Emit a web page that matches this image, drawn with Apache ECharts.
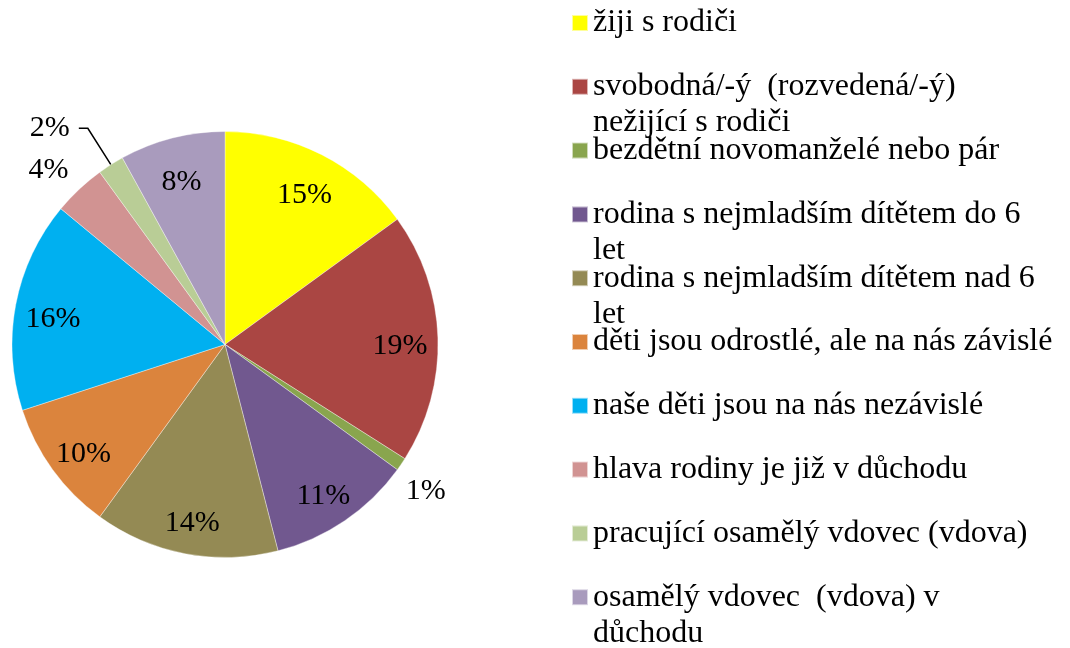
<!DOCTYPE html>
<html>
<head>
<meta charset="utf-8">
<script src="https://cdn.jsdelivr.net/npm/echarts@6/dist/echarts.min.js"></script>
<style>
  html, body { margin: 0; padding: 0; background: #fff; }
  #main { width: 1070px; height: 648px; }
</style>
</head>
<body>
<div id="main"></div>
<script>
var categories = [
  'žiji s rodiči',
  'svobodná/-ý  (rozvedená/-ý)\nnežijící s rodiči',
  'bezdětní novomanželé nebo pár',
  'rodina s nejmladším dítětem do 6\nlet',
  'rodina s nejmladším dítětem nad 6\nlet',
  'děti jsou odrostlé, ale na nás závislé',
  'naše děti jsou na nás nezávislé',
  'hlava rodiny je již v důchodu',
  'pracující osamělý vdovec (vdova)',
  'osamělý vdovec  (vdova) v\ndůchodu'
];
var shares = [15, 19, 1, 11, 14, 10, 16, 4, 2, 8];
var colors = ['#FFFF00', '#AA4643', '#89A54E', '#71588F', '#948A54',
              '#DB843D', '#00B0F0', '#D19392', '#B9CD96', '#A99BBD'];

(function(){
  var chart = echarts.init(document.getElementById('main'));
  var serif = '"Liberation Serif", "Times New Roman", serif';

  var center = [225, 344.5];
  var R = 213;

  // small slices get their labels outside the pie
  var outside = {
    2: { length: 48, length2: -40, line: false },
    7: { length: 26, length2: -12, line: false },
    8: { length: 43, length2: 9, line: true }
  };

  var pieData = shares.map(function (v, i) {
    return { name: categories[i], value: v, itemStyle: { color: colors[i] } };
  });

  var labelData = shares.map(function (v, i) {
    var item = { name: categories[i], value: v };
    var o = outside[i];
    if (o) {
      item.label = { position: 'outside', formatter: '{c}%', distanceToLabelLine: o.line ? 9 : 5 };
      item.labelLine = {
        show: o.line, length: o.length, length2: o.length2,
        lineStyle: { color: '#000', width: 1.5 }
      };
    }
    return item;
  });

  // one legend per entry so every marker sits on the same 64px step;
  // wrapped entries get an empty first line so the marker lines up with line one
  var legends = categories.map(function (name, i) {
    var twoLines = name.indexOf('\n') >= 0;
    var c = 23 + 63.8 * i;
    return {
      data: [name],
      left: 571,
      top: twoLines ? c - 54 : c - 18,
      padding: 0,
      icon: 'rect',
      itemWidth: 16,
      itemHeight: 16,
      selectedMode: false,
      formatter: function (n) { return twoLines ? '\n' + n : n; },
      textStyle: { fontFamily: serif, fontSize: 32, lineHeight: 36, color: '#000' }
    };
  });

  var option = {
    animation: false,
    legend: legends,
    series: [{
      type: 'pie',
      center: center,
      radius: [0, R],
      startAngle: 90,
      clockwise: true,
      silent: true,
      label: { show: false },
      labelLine: { show: false },
      itemStyle: { borderColor: 'rgba(255,255,255,0.6)', borderWidth: 0.6 },
      emphasis: { disabled: true },
      data: pieData
    }, {
      type: 'pie',
      center: center,
      radius: [131, R],
      startAngle: 90,
      clockwise: true,
      silent: true,
      avoidLabelOverlap: false,
      itemStyle: { color: 'rgba(0,0,0,0)' },
      emphasis: { disabled: true },
      label: {
        show: true,
        position: 'inside',
        // leading empty line nudges the percentages a little below the slice centre
        formatter: '\n{c}%',
        lineHeight: 14,
        color: '#000',
        fontFamily: serif,
        fontSize: 30
      },
      data: labelData
    }]
  };

  chart.setOption(option);
})()
</script>
</body>
</html>
